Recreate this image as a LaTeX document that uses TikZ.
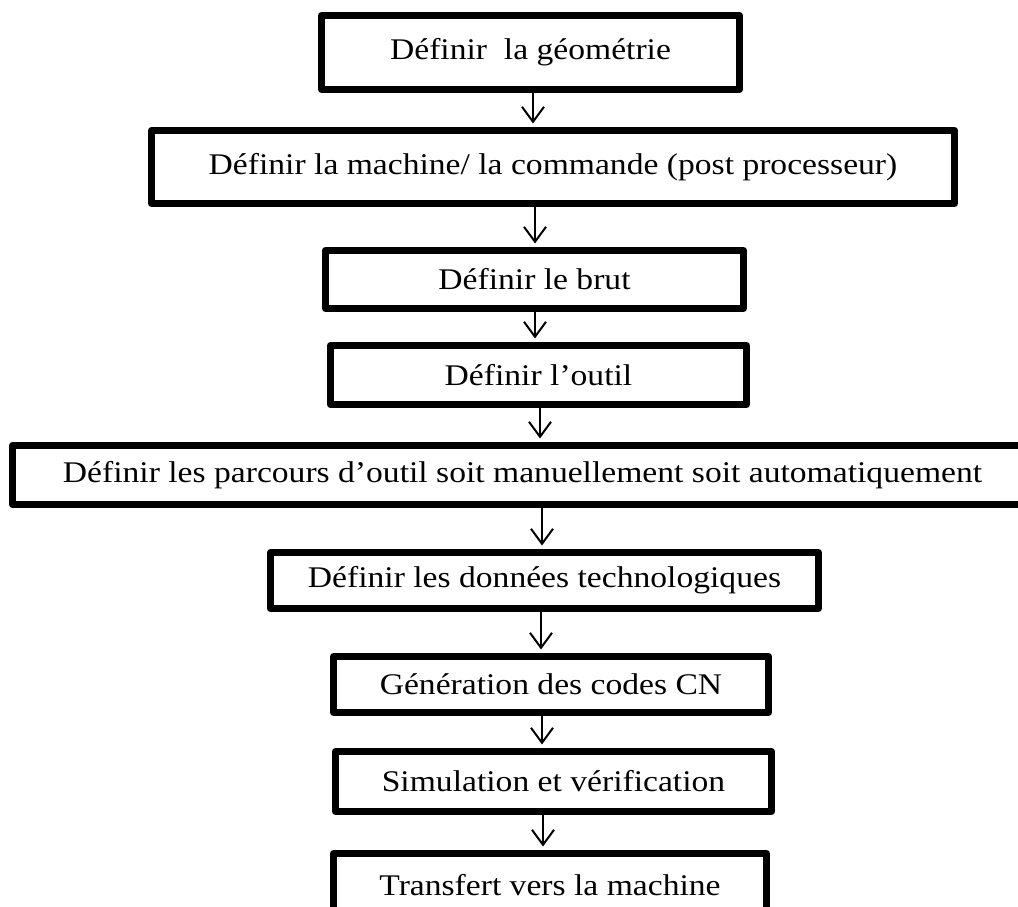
\documentclass[tikz,border=0pt]{standalone}
\usepackage{fontspec}
\setmainfont{Liberation Serif}[FakeStretch=1.12]
\usetikzlibrary{arrows.meta}
\tikzset{
  stepbox/.style={draw=black, line width=7pt, line join=round, inner sep=0pt,
    fill=white, font=\fontsize{30}{34}\selectfont, align=center},
  arr/.style={line width=2pt, -{Straight Barb[length=15pt,width=22pt,line width=2pt]}, shorten >=3.5pt}
}
\begin{document}
\begin{tikzpicture}[x=1pt,y=-1pt]
\useasboundingbox (0,0) rectangle (1018,907);
\node[stepbox, minimum width=418pt, minimum height=74pt] (b1) at (530.5,52.5) {Définir~ la géométrie};
\node[stepbox, minimum width=803pt, minimum height=73pt] (b2) at (553,167) {Définir la machine/ la commande (post processeur)};
\node[stepbox, minimum width=418pt, minimum height=58pt] (b3) at (534.5,279.5) {Définir le brut};
\node[stepbox, minimum width=416pt, minimum height=59pt] (b4) at (538.5,375) {Définir l’outil};
\node[stepbox, minimum width=1020pt, minimum height=59pt] (b5) at (522.5,475) {Définir les parcours d’outil soit manuellement soit automatiquement};
\node[stepbox, minimum width=548pt, minimum height=56pt] (b6) at (544.5,580.5) {Définir les données technologiques};
\node[stepbox, minimum width=435pt, minimum height=56pt] (b7) at (551,684.5) {Génération des codes CN};
\node[stepbox, minimum width=436pt, minimum height=60pt] (b8) at (553.5,781.5) {Simulation et vérification};
\node[stepbox, minimum width=433pt, minimum height=63pt] (b9) at (550,885) {Transfert vers la machine};
\coordinate (x1) at (533,0);
\coordinate (x2) at (535,0);
\coordinate (x3) at (535,0);
\coordinate (x4) at (540,0);
\coordinate (x5) at (542,0);
\coordinate (x6) at (541,0);
\coordinate (x7) at (542,0);
\coordinate (x8) at (543,0);
\draw[arr] (b1.south -| x1) -- (b2.north -| x1);
\draw[arr] (b2.south -| x2) -- (b3.north -| x2);
\draw[arr] (b3.south -| x3) -- (b4.north -| x3);
\draw[arr] (b4.south -| x4) -- (b5.north -| x4);
\draw[arr] (b5.south -| x5) -- (b6.north -| x5);
\draw[arr] (b6.south -| x6) -- (b7.north -| x6);
\draw[arr] (b7.south -| x7) -- (b8.north -| x7);
\draw[arr] (b8.south -| x8) -- (b9.north -| x8);
\end{tikzpicture}
\end{document}
